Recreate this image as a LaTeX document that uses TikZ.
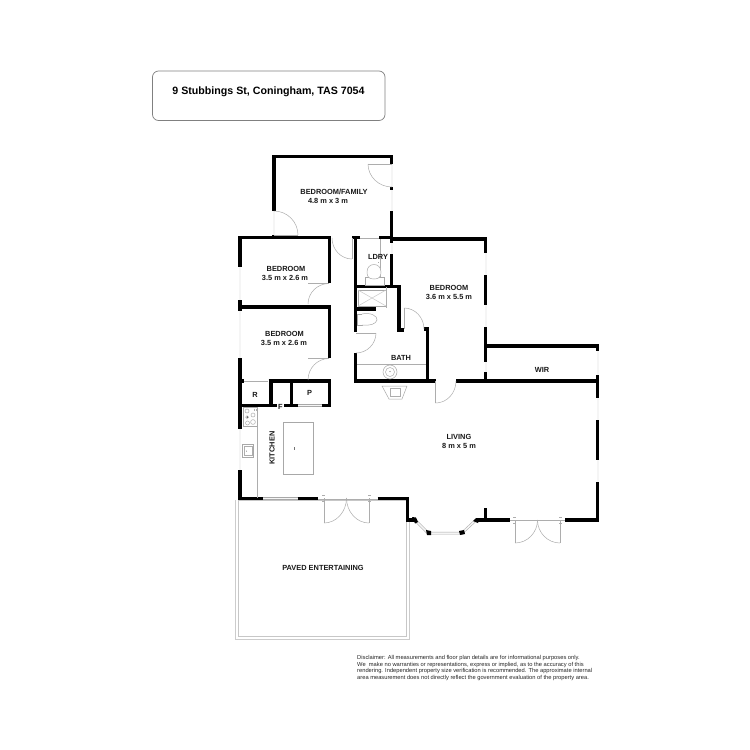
\documentclass[tikz,border=0pt]{standalone}
\usepackage{fontspec}
\setmainfont{Liberation Sans}
\usetikzlibrary{calc}
\newcommand{\quarterarc}[6]{%
  \pgfmathsetmacro{\qax}{#3+0.55*(#5-#1)}\pgfmathsetmacro{\qay}{#4+0.55*(#6-#2)}%
  \pgfmathsetmacro{\qbx}{#5+0.55*(#3-#1)}\pgfmathsetmacro{\qby}{#6+0.55*(#4-#2)}%
  \draw[fine] (#3,#4) .. controls (\qax,\qay) and (\qbx,\qby) .. (#5,#6);}
\tikzset{
  wall/.style={line width=3.2pt,line cap=butt,line join=miter,black},
  win/.style={draw=black!34,double=black!4,double distance=1.5pt,line width=.5pt},
  fine/.style={draw=black!32,line width=.5pt},
  fix/.style={draw=black!34,line width=.5pt,fill=white},
  lbl/.style={font=\fontsize{7.4}{8}\selectfont\bfseries,inner sep=0pt,text=black!90},
  note/.style={font=\fontsize{5.75}{6}\selectfont,inner sep=0pt,anchor=base west,text=black!85},
  panel/.style={draw=black!50,line width=.7pt,rounded corners=6pt}
}
\begin{document}
\begin{tikzpicture}[x=1pt,y=-1pt]
\useasboundingbox[fill=white] (0,0) rectangle (750,750);
% title
\draw[panel] (152.5,71) rectangle (385,120.5);
\node[font=\fontsize{10.65}{12}\selectfont\bfseries,inner sep=0pt] (title) at (268.5,92) {9 Stubbings St, Coningham, TAS 7054};
% paving
\draw[draw=black!20,line width=.8pt] (235,500) -- (235,639) -- (409,639) -- (409,521);
\draw[draw=black!22,line width=.8pt] (238,500) -- (238,636) -- (406,636) -- (406,521);
\draw[draw=black!22,line width=.7pt] (238,500) -- (408,500);
% windows
\draw[win] (274,211) -- (274,236);
\draw[win] (392,164) -- (392,187);
\draw[win] (392,189) -- (392,212);
\draw[win] (392,243) -- (392,254);
\draw[win] (240,267) -- (240,301);
\draw[win] (240,311) -- (240,358);
\draw[win] (240,429) -- (240,471);
\draw[win] (263,498.5) -- (298,498.5);
\draw[win] (486,253) -- (486,275);
\draw[win] (486,305) -- (486,327);
\draw[win] (486,362) -- (486,372);
\draw[win] (598,351) -- (598,375);
\draw[win] (598,398) -- (598,420);
\draw[win] (598,460) -- (598,482);
\draw[win] (415,520) -- (428,533) -- (462,533) -- (476,520);
\draw[win] (298,405.7) -- (322,405.7);
\draw[fine] (243,381) -- (268,381);
\draw[fine] (360,238) -- (379,238);
% walls
\draw[wall] (274,211) -- (274,156.2) -- (391.7,156.2) -- (391.7,164);
\draw[wall] (391.7,187) -- (391.7,189.5);
\draw[wall] (391.7,211) -- (391.7,243);
\draw[wall] (274,235) -- (274,238);
\draw[wall] (238.5,237.5) -- (331,237.5);
\draw[wall] (240,236) -- (240,267);
\draw[wall] (329.2,237.5) -- (329.2,283);
\draw[wall] (240,300) -- (240,311);
\draw[wall] (240,307) -- (331,307);
\draw[wall] (329.2,305.5) -- (329.2,358);
\draw[wall] (240,358) -- (240,429);
\draw[wall] (240,470) -- (240,498.7) -- (263,498.7);
\draw[wall] (240,381) -- (243.5,381);
\draw[wall] (268.5,381) -- (331,381);
\draw[wall] (329.2,380) -- (329.2,405.7) -- (321.5,405.7);
\draw[wall] (271,381) -- (271,405.7);
\draw[wall] (291.7,381) -- (291.7,405.7);
\draw[wall] (240,405.7) -- (298,405.7);
\draw[wall] (297.5,498.7) -- (318,498.7);
\draw[wall] (377.5,498.7) -- (407.5,498.7) -- (407.5,520) -- (415.5,520);
\draw[wall] (476,520) -- (510,520);
\draw[wall] (485.7,508) -- (485.7,520);
\draw[wall] (565,520) -- (597.8,520) -- (597.8,482);
\draw[wall] (597.8,375) -- (597.8,398);
\draw[wall] (597.8,420) -- (597.8,460);
\draw[wall] (485.7,352) -- (485.7,346) -- (599.4,346);
\draw[wall] (597.8,345) -- (597.8,351);
\draw[wall] (485.7,372) -- (485.7,381);
\draw[wall] (456,381) -- (599.4,381);
\draw[wall] (391.7,239) -- (487.3,239);
\draw[wall] (485.7,237.5) -- (485.7,253);
\draw[wall] (485.7,275) -- (485.7,305);
\draw[wall] (485.7,327) -- (485.7,362);
\draw[wall] (391.7,254) -- (391.7,287);
\draw[wall] (355,286.7) -- (399,286.7) -- (399,330) -- (404,330);
\draw[wall] (423.5,329) -- (427.3,329) -- (427.3,381);
\draw[wall] (355,381) -- (435.5,381);
\draw[wall] (355.7,236) -- (355.7,332);
\draw[wall] (355.7,353) -- (355.7,382.6);
\draw[wall] (352,237.7) -- (360,237.7);
\draw[wall] (379,237.7) -- (392,237.7);
\draw[wall] (355.7,309) -- (376,309);
% bay corner dots
\fill (412,517) -- (416,517.5) -- (418,522) -- (415,523.5) -- cycle;
\fill (426,530) -- (431,531) -- (431,535) -- (427,535) -- cycle;
\fill (459,531) -- (464,530) -- (465,534) -- (460,535) -- cycle;
\fill (473,521) -- (476,518) -- (480,518) -- (478,523) -- cycle;
% doors
\draw[fine] (274,235) -- (298,235);
\quarterarc{274}{235}{274}{211}{298}{235}
\draw[fine] (368,164) -- (392,164);
\quarterarc{392}{164}{368}{164}{392}{187}
\draw[fine] (308,283.5) -- (329,283.5);
\quarterarc{329}{304}{329}{283.5}{308}{304}
\draw[fine] (308,358.5) -- (329,358.5);
\quarterarc{329}{380}{329}{358.5}{308}{380}
\draw[fine] (352,238) -- (352,259);
\quarterarc{352}{238}{332}{238}{352}{259}
\draw[fine] (356,333) -- (376,333);
\quarterarc{356}{333}{376}{333}{356}{353}
\draw[fine] (404,308) -- (404,329);
\quarterarc{404}{329}{404}{308}{424}{329}
\draw[fine] (435.7,381) -- (435.7,403);
\quarterarc{435.7}{381}{456}{381}{435.7}{403}
% double doors
\draw[fine] (318,499.5) -- (378,499.5);
\draw[fine] (324,498) -- (324,523);
\draw[fine] (369,498) -- (369,523);
\quarterarc{324}{498}{346.5}{498}{324}{523}
\quarterarc{369}{498}{346.5}{498}{369}{523}
\draw[fine] (322,495.5) -- (325,495.5) (322,501.5) -- (325,501.5) (368,495.5) -- (371,495.5) (368,501.5) -- (371,501.5);
\draw[fine] (510,520.5) -- (565,520.5);
\draw[fine] (515,520) -- (515,543);
\draw[fine] (560,520) -- (560,543);
\quarterarc{515}{520}{537.5}{520}{515}{543}
\quarterarc{560}{520}{537.5}{520}{560}{543}
\draw[fine] (513,517.5) -- (516,517.5) (513,523) -- (516,523) (559,517.5) -- (562,517.5) (559,523) -- (562,523);
% laundry
\draw[fine] (380.5,239) -- (380.5,285);
\draw[fix] (365,277) rectangle (384,285);
\draw[fix] (367,272) .. controls (367,262) and (381,262) .. (381,272) .. controls (381,277) and (379,279) .. (374,279) .. controls (369,279) and (367,277) .. (367,272);
\fill[black!50] (378.5,262.5) circle (.4);
% shower
\draw[fix] (358,290) rectangle (386,306);
\draw[fine,black!22] (358,290) -- (386,306) (358,306) -- (386,290);
\draw[fine] (386,287) -- (386,308);
% toilet
\draw[fix] (357.5,314) rectangle (362,325);
\draw[fix] (362,314) .. controls (370,312) and (378,316) .. (377,320) .. controls (376,324) and (370,326) .. (362,325);
% basin bench
\draw[fine] (357,364) -- (426,364);
\draw[fix] (390,372) circle (7);
\draw[fine] (390,372) circle (4.5);
\fill[black!55] (390,371.5) circle (.6);
% fireplace
\draw[fix] (382,386) -- (407,386) -- (402,399) -- (389,399) -- cycle;
\draw[fine] (390.5,388.5) rectangle (400,396.5);
% kitchen
\draw[fine] (257,407) -- (257,498);
\draw[fix] (243,407.5) rectangle (257,426);
\foreach \cx/\cy/\r in {247/411/2,253/415/2,247/417/1.4,253/422/2.4,247.5/423/2}{\draw[fine] (\cx,\cy) circle (\r);}
\fill[black!60] (247.5,417) circle (1);
\draw[fine] (254,408.5) -- (254,411) (256,408.5) -- (256,411);
\draw[fix] (242.5,444) rectangle (253.5,457);
\draw[fine] (244,446) rectangle (252,455.5);
\fill[black!60] (246.5,451) circle (.5);
\draw[fix] (283,422.7) rectangle (313.5,474);
\draw[black!55,line width=.4pt] (294.5,447) -- (294.5,450);
% labels
\node[lbl] (n1) at (334,192) {BEDROOM/FAMILY};
\node[lbl] (n2) at (328,200.5) {4.8 m x 3 m};
\node[lbl] (n3) at (286,269) {BEDROOM};
\node[lbl] (n4) at (285,277.5) {3.5 m x 2.6 m};
\node[lbl] (n5) at (284.5,334) {BEDROOM};
\node[lbl] (n6) at (284,342.5) {3.5 m x 2.6 m};
\node[lbl] (n7) at (449,288) {BEDROOM};
\node[lbl] (n8) at (449,296.5) {3.6 m x 5.5 m};
\node[lbl] (n9) at (378,257) {LDRY};
\node[lbl] (n10) at (401,357.5) {BATH};
\node[lbl] (n11) at (255,395) {R};
\node[lbl] (n12) at (309.5,393) {P};
\node[lbl,fill=white,inner xsep=1.5pt,inner ysep=.5pt] (n13) at (280.3,406.5) {F};
\node[lbl,rotate=90] (n14) at (272,448) {KITCHEN};
\node[lbl] (n15) at (459,437) {LIVING};
\node[lbl] (n16) at (459,446) {8 m x 5 m};
\node[lbl] (n17) at (542,370) {WIR};
\node[lbl] (n18) at (323,568) {PAVED ENTERTAINING};
% disclaimer
\node[note] (d1) at (357,659.5) {Disclaimer: All measurements and floor plan details are for informational purposes only.};
\node[note] (d2) at (357,666) {We\ \ make no warranties or representations, express or implied, as to the accuracy of this};
\node[note] (d3) at (357,672.5) {rendering. Independent property size verification is recommended. The approximate internal};
\node[note] (d4) at (357,679.5) {area measurement does not directly reflect the government evaluation of the property area.};
\end{tikzpicture}
\end{document}
